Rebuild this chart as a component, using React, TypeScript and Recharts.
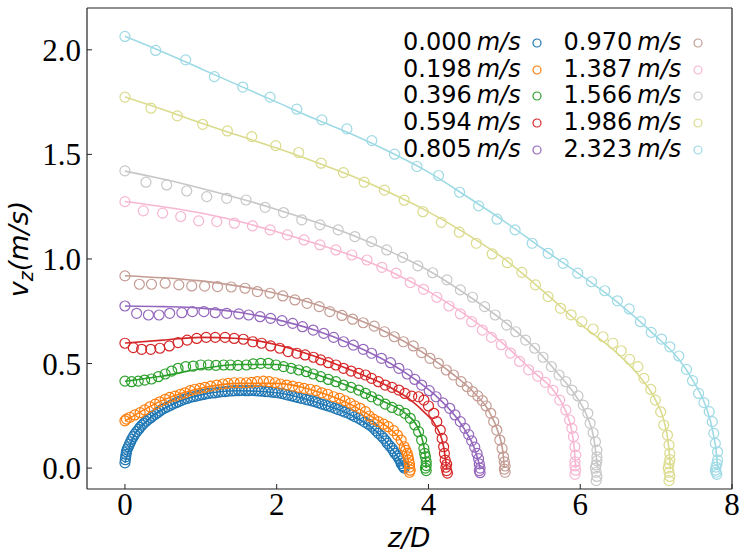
import { ComposedChart, Scatter, Line, XAxis, YAxis, Legend } from 'recharts';

const speedLabels = ['0.000', '0.198', '0.396', '0.594', '0.805', '0.970', '1.387', '1.566', '1.986', '2.323'];
const palette = ['#1f77b4', '#ff7f0e', '#2ca02c', '#d62728', '#9467bd', '#c49c94', '#f7b6d2', '#c7c7c7', '#dbdb8d', '#9edae5'];
const xTicks = [0, 2, 4, 6, 8];
const yTicks = [0, 0.5, 1, 1.5, 2];

// measured points, [z/D, vz]
const obs0000 = [[0,0.025],[0.005,0.04],[0.01,0.054],[0.015,0.066],[0.02,0.078],[0.03,0.09],[0.045,0.102],[0.06,0.114],[0.075,0.126],[0.09,0.138],[0.11,0.15],[0.13,0.162],[0.154,0.174],[0.18,0.185],[0.2,0.195],[0.225,0.205],[0.25,0.214],[0.28,0.224],[0.31,0.233],[0.34,0.241],[0.365,0.249],[0.4,0.257],[0.43,0.265],[0.46,0.273],[0.49,0.281],[0.525,0.287],[0.56,0.293],[0.6,0.3],[0.63,0.306],[0.67,0.312],[0.7,0.317],[0.74,0.323],[0.78,0.329],[0.82,0.333],[0.86,0.338],[0.9,0.341],[0.94,0.344],[0.98,0.348],[1.02,0.351],[1.06,0.354],[1.1,0.357],[1.15,0.359],[1.19,0.36],[1.23,0.363],[1.275,0.365],[1.32,0.366],[1.36,0.368],[1.41,0.369],[1.45,0.37],[1.5,0.37],[1.54,0.371],[1.59,0.37],[1.63,0.37],[1.67,0.371],[1.715,0.37],[1.76,0.369],[1.8,0.368],[1.85,0.366],[1.89,0.365],[1.94,0.363],[1.98,0.362],[2.02,0.36],[2.07,0.357],[2.11,0.353],[2.15,0.349],[2.2,0.345],[2.24,0.341],[2.28,0.337],[2.33,0.333],[2.38,0.329],[2.42,0.325],[2.47,0.321],[2.51,0.317],[2.55,0.312],[2.595,0.306],[2.64,0.302],[2.68,0.297],[2.72,0.292],[2.77,0.286],[2.81,0.28],[2.86,0.274],[2.9,0.268],[2.95,0.262],[2.99,0.254],[3.03,0.246],[3.08,0.238],[3.12,0.23],[3.16,0.22],[3.21,0.21],[3.25,0.2],[3.28,0.19],[3.31,0.178],[3.34,0.166],[3.38,0.154],[3.41,0.142],[3.44,0.13],[3.46,0.118],[3.49,0.106],[3.52,0.094],[3.54,0.082],[3.56,0.07],[3.59,0.058],[3.61,0.046],[3.63,0.034],[3.64,0.022],[3.66,0.012],[3.67,0.006],[3.68,0]];
const obs0198 = [[0,0.226],[0.02,0.234],[0.066,0.243],[0.13,0.254],[0.2,0.265],[0.26,0.278],[0.33,0.293],[0.4,0.306],[0.46,0.317],[0.53,0.329],[0.59,0.338],[0.66,0.344],[0.73,0.353],[0.79,0.36],[0.86,0.37],[0.92,0.377],[0.99,0.381],[1.055,0.386],[1.13,0.392],[1.21,0.397],[1.29,0.402],[1.36,0.405],[1.44,0.408],[1.52,0.408],[1.6,0.408],[1.67,0.41],[1.745,0.413],[1.825,0.416],[1.9,0.413],[1.98,0.408],[2.05,0.402],[2.13,0.397],[2.21,0.392],[2.29,0.386],[2.36,0.381],[2.44,0.377],[2.52,0.37],[2.595,0.36],[2.67,0.353],[2.75,0.341],[2.83,0.333],[2.9,0.322],[2.97,0.31],[3.03,0.297],[3.1,0.286],[3.17,0.27],[3.22,0.249],[3.28,0.233],[3.34,0.222],[3.41,0.21],[3.47,0.198],[3.54,0.179],[3.59,0.158],[3.64,0.134],[3.68,0.102],[3.7,0.085],[3.72,0.07],[3.73,0.054],[3.74,0.038],[3.75,0.02],[3.75,0.005],[3.76,-0.01],[3.75,-0.02]];
const obs0396 = [[0,0.416],[0.088,0.413],[0.175,0.416],[0.26,0.421],[0.35,0.426],[0.44,0.437],[0.53,0.45],[0.616,0.464],[0.7,0.477],[0.8,0.485],[0.9,0.488],[1.0,0.493],[1.1,0.493],[1.2,0.491],[1.3,0.493],[1.39,0.493],[1.49,0.491],[1.6,0.493],[1.69,0.498],[1.79,0.501],[1.89,0.501],[1.99,0.493],[2.09,0.485],[2.19,0.477],[2.29,0.469],[2.39,0.461],[2.48,0.45],[2.58,0.437],[2.68,0.424],[2.78,0.413],[2.88,0.397],[2.98,0.386],[3.08,0.373],[3.17,0.357],[3.25,0.341],[3.34,0.325],[3.43,0.306],[3.52,0.29],[3.61,0.277],[3.69,0.262],[3.76,0.238],[3.82,0.206],[3.87,0.174],[3.91,0.134],[3.94,0.094],[3.95,0.07],[3.96,0.054],[3.97,0.03],[3.97,0.012],[3.96,0.0],[3.97,-0.012]];
const obs0594 = [[0,0.597],[0.11,0.576],[0.22,0.568],[0.34,0.568],[0.46,0.573],[0.585,0.584],[0.7,0.6],[0.82,0.612],[0.946,0.62],[1.07,0.625],[1.19,0.625],[1.32,0.625],[1.44,0.62],[1.56,0.616],[1.685,0.604],[1.8,0.597],[1.92,0.584],[2.04,0.573],[2.15,0.557],[2.265,0.549],[2.375,0.541],[2.485,0.53],[2.58,0.517],[2.68,0.504],[2.78,0.493],[2.88,0.477],[2.98,0.464],[3.08,0.453],[3.17,0.445],[3.25,0.429],[3.34,0.413],[3.43,0.397],[3.52,0.386],[3.61,0.373],[3.69,0.357],[3.78,0.344],[3.87,0.341],[3.94,0.325],[4.0,0.297],[4.07,0.262],[4.11,0.222],[4.155,0.182],[4.18,0.142],[4.2,0.102],[4.21,0.07],[4.22,0.038],[4.24,0.018],[4.23,0.004],[4.24,-0.012],[4.25,-0.024]];
const obs0805 = [[0,0.775],[0.154,0.74],[0.31,0.732],[0.45,0.732],[0.59,0.74],[0.75,0.743],[0.89,0.748],[1.04,0.748],[1.19,0.743],[1.34,0.74],[1.5,0.737],[1.63,0.732],[1.78,0.724],[1.92,0.716],[2.07,0.705],[2.21,0.692],[2.34,0.676],[2.48,0.66],[2.62,0.644],[2.75,0.625],[2.88,0.604],[3.01,0.588],[3.14,0.568],[3.25,0.549],[3.38,0.525],[3.5,0.504],[3.61,0.477],[3.72,0.45],[3.82,0.424],[3.91,0.397],[4.01,0.37],[4.1,0.341],[4.19,0.312],[4.28,0.286],[4.35,0.254],[4.42,0.222],[4.48,0.19],[4.53,0.16],[4.57,0.13],[4.61,0.1],[4.64,0.07],[4.66,0.045],[4.67,0.02],[4.68,0.0],[4.67,-0.012],[4.68,-0.022]];
const obs0970 = [[0,0.919],[0.19,0.879],[0.35,0.879],[0.53,0.884],[0.71,0.876],[0.88,0.871],[1.05,0.87],[1.22,0.868],[1.4,0.866],[1.583,0.86],[1.745,0.844],[1.913,0.836],[2.08,0.823],[2.24,0.804],[2.4,0.788],[2.56,0.772],[2.7,0.748],[2.86,0.73],[3.0,0.712],[3.14,0.695],[3.285,0.679],[3.42,0.652],[3.55,0.628],[3.67,0.604],[3.8,0.584],[3.91,0.552],[4.02,0.525],[4.13,0.501],[4.235,0.469],[4.33,0.445],[4.43,0.413],[4.51,0.389],[4.58,0.366],[4.65,0.345],[4.71,0.323],[4.76,0.297],[4.82,0.262],[4.86,0.222],[4.9,0.182],[4.94,0.134],[4.97,0.094],[4.99,0.054],[5.0,0.03],[5.01,0.01],[5.0,-0.005],[5.01,-0.02]];
const obs1387 = [[0,1.274],[0.242,1.23],[0.497,1.219],[0.735,1.203],[0.972,1.182],[1.21,1.179],[1.442,1.171],[1.68,1.158],[1.913,1.139],[2.14,1.115],[2.36,1.091],[2.57,1.067],[2.78,1.043],[2.99,1.019],[3.19,0.995],[3.386,0.96],[3.575,0.932],[3.76,0.887],[3.935,0.855],[4.11,0.817],[4.27,0.775],[4.42,0.737],[4.57,0.7],[4.71,0.66],[4.83,0.625],[4.96,0.59],[5.08,0.55],[5.2,0.51],[5.32,0.47],[5.44,0.44],[5.54,0.41],[5.64,0.372],[5.73,0.325],[5.81,0.278],[5.86,0.23],[5.89,0.19],[5.91,0.15],[5.93,0.102],[5.94,0.062],[5.93,0.03],[5.93,0.01],[5.94,-0.01],[5.93,-0.03]];
const obs1566 = [[0,1.421],[0.277,1.367],[0.55,1.354],[0.814,1.325],[1.078,1.298],[1.341,1.29],[1.596,1.282],[1.847,1.247],[2.09,1.222],[2.33,1.187],[2.57,1.163],[2.81,1.139],[3.03,1.107],[3.25,1.083],[3.45,1.043],[3.66,1.008],[3.86,0.967],[4.054,0.934],[4.244,0.9],[4.42,0.852],[4.58,0.817],[4.74,0.772],[4.88,0.732],[5.03,0.684],[5.15,0.652],[5.28,0.612],[5.4,0.573],[5.51,0.53],[5.62,0.485],[5.72,0.445],[5.81,0.413],[5.89,0.373],[5.97,0.345],[6.04,0.301],[6.1,0.262],[6.13,0.214],[6.17,0.169],[6.2,0.126],[6.22,0.086],[6.22,0.054],[6.22,0.035],[6.21,0.015],[6.2,0.0],[6.21,-0.02],[6.22,-0.04],[6.21,-0.06]];
const obs1986 = [[0,1.774],[0.343,1.721],[0.69,1.684],[1.025,1.644],[1.35,1.612],[1.671,1.585],[1.988,1.542],[2.29,1.509],[2.586,1.458],[2.88,1.413],[3.153,1.367],[3.42,1.329],[3.68,1.281],[3.927,1.226],[4.169,1.175],[4.406,1.128],[4.63,1.075],[4.84,1.024],[5.04,0.982],[5.23,0.936],[5.41,0.876],[5.576,0.82],[5.74,0.764],[5.88,0.733],[6.02,0.7],[6.17,0.665],[6.3,0.628],[6.43,0.597],[6.54,0.561],[6.65,0.52],[6.76,0.485],[6.84,0.429],[6.93,0.376],[6.99,0.325],[7.06,0.269],[7.1,0.206],[7.15,0.158],[7.17,0.11],[7.18,0.07],[7.18,0.04],[7.17,0.02],[7.16,0.0],[7.17,-0.02],[7.18,-0.04],[7.17,-0.06]];
const obs2323 = [[0,2.064],[0.405,1.997],[0.8,1.952],[1.178,1.872],[1.553,1.822],[1.913,1.774],[2.265,1.716],[2.595,1.665],[2.925,1.622],[3.254,1.566],[3.553,1.501],[3.848,1.442],[4.133,1.399],[4.41,1.319],[4.661,1.254],[4.904,1.19],[5.141,1.139],[5.366,1.075],[5.577,1.027],[5.774,0.979],[5.967,0.932],[6.148,0.891],[6.323,0.848],[6.49,0.8],[6.645,0.761],[6.794,0.7],[6.935,0.649],[7.071,0.617],[7.181,0.58],[7.3,0.536],[7.4,0.472],[7.48,0.418],[7.56,0.357],[7.63,0.313],[7.7,0.27],[7.74,0.222],[7.76,0.166],[7.78,0.118],[7.81,0.078],[7.81,0.038],[7.8,0.02],[7.79,0.005],[7.78,-0.01],[7.79,-0.02],[7.8,-0.03]];

// fitted curves
const fit0000 = [[0,0.025],[0.1,0.14],[0.3,0.23],[0.6,0.3],[1,0.35],[1.5,0.37],[2,0.36],[2.5,0.317],[3,0.25],[3.3,0.18],[3.5,0.1],[3.62,0.04],[3.68,0]];
const fit0198 = [[0,0.225],[0.5,0.325],[1,0.382],[1.5,0.405],[2,0.405],[2.5,0.37],[3,0.3],[3.3,0.235],[3.5,0.185],[3.65,0.125],[3.72,0.06],[3.75,0]];
const fit0396 = [[0,0.415],[0.5,0.44],[1,0.475],[1.5,0.495],[2,0.495],[2.5,0.45],[3,0.385],[3.4,0.32],[3.7,0.26],[3.85,0.2],[3.93,0.12],[3.96,0.05],[3.97,0]];
const fit0594 = [[0,0.598],[0.5,0.612],[1,0.625],[1.5,0.62],[2,0.59],[2.5,0.535],[3,0.465],[3.5,0.385],[3.75,0.33],[3.95,0.265],[4.1,0.2],[4.2,0.1],[4.24,0]];
const fit0805 = [[0,0.775],[0.5,0.772],[1,0.765],[1.5,0.745],[2,0.71],[2.5,0.66],[3,0.59],[3.5,0.5],[3.8,0.43],[4.1,0.345],[4.35,0.25],[4.5,0.17],[4.6,0.1],[4.66,0.03],[4.68,0]];
const fit0970 = [[0,0.92],[0.5,0.91],[1,0.895],[1.5,0.87],[2,0.835],[2.5,0.785],[3,0.72],[3.5,0.64],[4,0.535],[4.3,0.455],[4.6,0.36],[4.8,0.27],[4.92,0.17],[4.98,0.08],[5.0,0]];
const fit1387 = [[0,1.275],[0.5,1.25],[1,1.22],[1.5,1.18],[2,1.13],[2.5,1.075],[3,1.015],[3.5,0.94],[4,0.845],[4.5,0.73],[5,0.59],[5.4,0.455],[5.65,0.37],[5.8,0.28],[5.88,0.19],[5.92,0.1],[5.94,0]];
const fit1566 = [[0,1.42],[0.5,1.382],[1,1.338],[1.5,1.29],[2,1.237],[2.5,1.178],[3,1.113],[3.5,1.035],[4,0.945],[4.5,0.83],[5,0.7],[5.4,0.575],[5.7,0.455],[5.95,0.34],[6.1,0.24],[6.18,0.14],[6.22,0.03],[6.23,0]];
const fit1986 = [[0,1.775],[0.5,1.715],[1,1.65],[1.5,1.59],[2,1.53],[2.5,1.465],[3,1.395],[3.5,1.315],[4,1.225],[4.5,1.12],[5,1.0],[5.5,0.85],[6,0.69],[6.5,0.545],[6.8,0.43],[7,0.32],[7.1,0.23],[7.16,0.12],[7.19,0]];
const fit2323 = [[0,2.065],[0.5,1.99],[1,1.91],[1.5,1.83],[2,1.75],[2.5,1.67],[3,1.595],[3.5,1.51],[4,1.415],[4.5,1.3],[5,1.18],[5.5,1.05],[6,0.925],[6.5,0.79],[7,0.63],[7.3,0.52],[7.5,0.41],[7.65,0.3],[7.75,0.17],[7.8,0.05],[7.81,0]];

const observed = [obs0000, obs0198, obs0396, obs0594, obs0805, obs0970, obs1387, obs1566, obs1986, obs2323];
const fitted = [fit0000, fit0198, fit0396, fit0594, fit0805, fit0970, fit1387, fit1566, fit1986, fit2323];

const toRows = (pts: number[][]) => pts.map(([x, y]) => ({ x, y }));

const tickFont = { fontFamily: 'Liberation Serif', fontSize: 31, fill: '#000' };
const frame = { stroke: '#222', strokeWidth: 1.2 };

function SpeedLegend() {
  return (
    <div style={{ position: 'relative', width: 330, height: 140 }}>
      {speedLabels.map((s, i) => {
        const col = i < 5 ? 0 : 1;
        const row = i % 5;
        return (
          <div
            key={s}
            style={{
              position: 'absolute',
              left: col * 160.6,
              top: row * 26.7,
              height: 26.7,
              lineHeight: '26.7px',
              whiteSpace: 'nowrap',
              fontFamily: 'DejaVu Sans',
              fontSize: 24,
              color: '#000',
            }}
          >
            <span>{s}</span>
            <span style={{ fontStyle: 'italic', marginLeft: 5 }}>m/s</span>
            <svg width={12} height={12} style={{ position: 'absolute', left: 128, top: 8 }}>
              <circle cx={6} cy={6} r={4} fill="none" stroke={palette[i]} strokeWidth={1.2} />
            </svg>
          </div>
        );
      })}
    </div>
  );
}

export default function App() {
  return (
    <div style={{ position: 'absolute', left: 0, top: 0, width: 747, height: 560, background: '#fff' }}>
      <ComposedChart width={747} height={560} margin={{ top: 0, right: 0, bottom: 0, left: 0 }}>
        <XAxis
          xAxisId="top"
          orientation="top"
          type="number"
          domain={[-0.5, 8]}
          ticks={xTicks}
          allowDataOverflow
          height={8}
          tick={false}
          tickSize={-5}
          axisLine={frame}
          tickLine={{ stroke: '#222' }}
        />
        <YAxis
          yAxisId="right"
          orientation="right"
          type="number"
          domain={[-0.1, 2.2]}
          ticks={yTicks}
          allowDataOverflow
          width={15}
          tick={false}
          tickSize={-5}
          axisLine={frame}
          tickLine={{ stroke: '#222' }}
        />
        <XAxis
          dataKey="x"
          type="number"
          domain={[-0.5, 8]}
          ticks={xTicks}
          interval={0}
          allowDataOverflow
          height={71}
          tickSize={-5}
          tickMargin={9}
          tick={tickFont}
          axisLine={frame}
          tickLine={{ stroke: '#222' }}
          label={{
            content: () => (
              <text x={409} y={547} textAnchor="middle" fontFamily="DejaVu Sans" fontStyle="italic" fontSize={26} fill="#000">
                z/D
              </text>
            ),
          }}
        />
        <YAxis
          dataKey="y"
          type="number"
          domain={[-0.1, 2.2]}
          ticks={yTicks}
          interval={0}
          allowDataOverflow
          width={87}
          tickSize={-5}
          tickMargin={11}
          tick={tickFont}
          tickFormatter={(v: number) => v.toFixed(1)}
          axisLine={frame}
          tickLine={{ stroke: '#222' }}
          label={{
            content: () => (
              <text transform="translate(28,249) rotate(-90)" textAnchor="middle" fontFamily="DejaVu Sans" fontStyle="italic" fontSize={27} fill="#000">
                v<tspan dy={5} fontSize={19}>z</tspan>
                <tspan dy={-5}>(m/s)</tspan>
              </text>
            ),
          }}
        />
        {observed.flatMap((pts, i) => [
          <Scatter
            key={`obs-${i}`}
            name={speedLabels[i]}
            data={toRows(pts)}
            isAnimationActive={false}
            shape={(p: any) => (
              <circle cx={p.cx} cy={p.cy} r={5} fill="none" stroke={palette[i]} strokeWidth={1.2} />
            )}
          />,
          <Line
            key={`fit-${i}`}
            data={toRows(fitted[i])}
            dataKey="y"
            type="monotone"
            stroke={palette[i]}
            strokeWidth={1.6}
            dot={false}
            activeDot={false}
            legendType="none"
            isAnimationActive={false}
          />,
        ])}
        <Legend
          layout="horizontal"
          verticalAlign="middle"
          align="center"
          wrapperStyle={{ top: 29, left: 403, width: 330 }}
          content={() => <SpeedLegend />}
        />
      </ComposedChart>
    </div>
  );
}
